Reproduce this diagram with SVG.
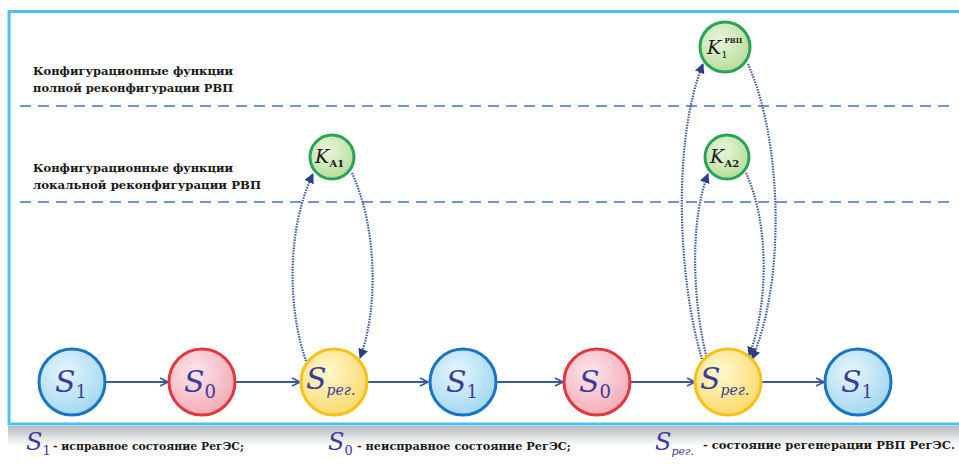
<svg xmlns="http://www.w3.org/2000/svg" width="959" height="464" viewBox="0 0 959 464">
<defs>
  <radialGradient id="gBlue" cx="0.4" cy="0.35" r="0.7">
    <stop offset="0" stop-color="#e6f6fd"/>
    <stop offset="1" stop-color="#9fd6f0"/>
  </radialGradient>
  <radialGradient id="gRed" cx="0.4" cy="0.35" r="0.7">
    <stop offset="0" stop-color="#fde6ea"/>
    <stop offset="1" stop-color="#f2a9b4"/>
  </radialGradient>
  <radialGradient id="gYel" cx="0.4" cy="0.35" r="0.7">
    <stop offset="0" stop-color="#fff8d0"/>
    <stop offset="1" stop-color="#fbd968"/>
  </radialGradient>
  <radialGradient id="gGrn" cx="0.4" cy="0.35" r="0.7">
    <stop offset="0" stop-color="#eaf6dc"/>
    <stop offset="1" stop-color="#b5dc98"/>
  </radialGradient>
  <linearGradient id="gShadow" x1="0" y1="0" x2="0" y2="1">
    <stop offset="0" stop-color="#7d8488"/>
    <stop offset="1" stop-color="#ffffff"/>
  </linearGradient>
  <marker id="arrOpen" viewBox="0 0 10 10" refX="9" refY="5" markerWidth="10" markerHeight="10" markerUnits="userSpaceOnUse" orient="auto">
    <path d="M1,1 L9,5 L1,9" fill="none" stroke="#3b5a9c" stroke-width="1.8"/>
  </marker>
  <marker id="arrSolid" viewBox="0 0 10 10" refX="9" refY="5" markerWidth="10" markerHeight="10" markerUnits="userSpaceOnUse" orient="auto">
    <path d="M0,0 L10,5 L0,10 Z" fill="#2c3f86"/>
  </marker>
</defs>
<style>
  text { font-family: "DejaVu Serif", "Liberation Serif", serif; }
  .title { font-weight: bold; font-size: 11.5px; fill: #1a1a1a; }
  .legend { font-weight: bold; font-size: 11.5px; fill: #1a1a1a; }
  .sym { font-style: italic; fill: #3c3c9c; }
  .dash { stroke: #6f96cf; stroke-width: 2; stroke-dasharray: 11 7; fill: none; }
  .link { stroke: #3b5a9c; stroke-width: 2; fill: none; marker-end: url(#arrOpen); }
  .loop { stroke: #3b5a9c; stroke-width: 2.2; stroke-dasharray: 1.5 1.2; fill: none; marker-end: url(#arrSolid); }
  .nb { fill: url(#gBlue); stroke: #1a74c4; stroke-width: 3; }
  .nr { fill: url(#gRed); stroke: #e2383f; stroke-width: 3; }
  .ny { fill: url(#gYel); stroke: #f6c21a; stroke-width: 3; }
  .ng { fill: url(#gGrn); stroke: #2aa35a; stroke-width: 3; }
</style>
<rect x="0" y="0" width="959" height="464" fill="#ffffff"/>
<rect x="8" y="426" width="951" height="20" fill="url(#gShadow)" opacity="0.55"/>
<rect x="9" y="11.5" width="960" height="412.5" fill="#ffffff" stroke="#4fbfef" stroke-width="3"/>

<g id="zones">
  <line class="dash" x1="20" y1="106" x2="950" y2="106"/>
  <line class="dash" x1="20" y1="202" x2="950" y2="202"/>
  <text class="title" x="33" y="75" textLength="200" lengthAdjust="spacingAndGlyphs">Конфигурационные функции</text>
  <text class="title" x="33" y="92" textLength="200" lengthAdjust="spacingAndGlyphs">полной реконфигурации РВП</text>
  <text class="title" x="33" y="172" textLength="200" lengthAdjust="spacingAndGlyphs">Конфигурационные функции</text>
  <text class="title" x="33" y="189" textLength="228" lengthAdjust="spacingAndGlyphs">локальной реконфигурации РВП</text>
</g>

<g id="connectors">
  <line class="link" x1="106" y1="382" x2="168" y2="382"/>
  <line class="link" x1="235" y1="382" x2="300" y2="382"/>
  <line class="link" x1="367" y1="382" x2="428" y2="382"/>
  <line class="link" x1="496" y1="382" x2="563" y2="382"/>
  <line class="link" x1="631" y1="382" x2="695" y2="382"/>
  <line class="link" x1="762" y1="382" x2="824" y2="382"/>
  <path class="loop" d="M306,361 C288,310 286,230 313,174"/>
  <path class="loop" d="M352,173 C378,230 378,310 360,358"/>
  <path class="loop" d="M702,359 C678,280 672,140 703,64"/>
  <path class="loop" d="M748,64 C782,140 786,280 752,359"/>
  <path class="loop" d="M707,359 C692,300 690,220 708,174"/>
  <path class="loop" d="M746,173 C768,220 770,300 749,356"/>
</g>

<g id="s1a"><circle class="nb" cx="72" cy="382" r="33"/><text class="sym" x="55" y="392" font-size="30">S<tspan font-size="18" font-style="normal" dy="6">1</tspan></text></g>
<g id="s0a"><circle class="nr" cx="202" cy="382" r="33"/><text class="sym" x="184" y="392" font-size="30">S<tspan font-size="18" font-style="normal" dy="6">0</tspan></text></g>
<g id="srega"><circle class="ny" cx="334" cy="382" r="33"/><text class="sym" x="306" y="389" font-size="30">S<tspan font-size="14" dy="6">рег.</tspan></text></g>
<g id="s1b"><circle class="nb" cx="463" cy="382" r="33"/><text class="sym" x="446" y="392" font-size="30">S<tspan font-size="18" font-style="normal" dy="6">1</tspan></text></g>
<g id="s0b"><circle class="nr" cx="597" cy="382" r="33"/><text class="sym" x="579" y="392" font-size="30">S<tspan font-size="18" font-style="normal" dy="6">0</tspan></text></g>
<g id="sregb"><circle class="ny" cx="728" cy="382" r="33"/><text class="sym" x="700" y="389" font-size="30">S<tspan font-size="14" dy="6">рег.</tspan></text></g>
<g id="s1c"><circle class="nb" cx="858" cy="382" r="33"/><text class="sym" x="841" y="392" font-size="30">S<tspan font-size="18" font-style="normal" dy="6">1</tspan></text></g>

<g id="ka1"><circle class="ng" cx="332" cy="157" r="22"/><text class="sym" x="315" y="163" font-size="19" style="fill:#1a1a1a">K<tspan font-size="10" font-style="normal" font-weight="bold" dy="4">А1</tspan></text></g>
<g id="k1"><circle class="ng" cx="725" cy="47" r="25"/><text class="sym" x="707" y="54" font-size="19" style="fill:#1a1a1a">K<tspan font-size="10" font-style="normal" dy="4">1</tspan><tspan font-size="7" font-style="normal" font-weight="bold" dx="-3" dy="-15">РВП</tspan></text></g>
<g id="ka2"><circle class="ng" cx="727" cy="157" r="22"/><text class="sym" x="710" y="163" font-size="19" style="fill:#1a1a1a">K<tspan font-size="10" font-style="normal" font-weight="bold" dy="4">А2</tspan></text></g>

<g id="legend">
  <text class="sym" x="26" y="450" font-size="24">S<tspan font-size="13" font-style="normal" dy="5">1</tspan></text>
  <text class="legend" x="53" y="450" textLength="191" lengthAdjust="spacingAndGlyphs">- исправное состояние РегЭС;</text>
  <text class="sym" x="328" y="450" font-size="24">S<tspan font-size="13" font-style="normal" dy="5">0</tspan></text>
  <text class="legend" x="357" y="450" textLength="214" lengthAdjust="spacingAndGlyphs">- неисправное состояние РегЭС;</text>
  <text class="sym" x="655" y="450" font-size="24">S<tspan font-size="11" dy="5">рег.</tspan></text>
  <text class="legend" x="703" y="449" textLength="252" lengthAdjust="spacingAndGlyphs">- состояние  регенерации РВП РегЭС.</text>
</g>
</svg>
